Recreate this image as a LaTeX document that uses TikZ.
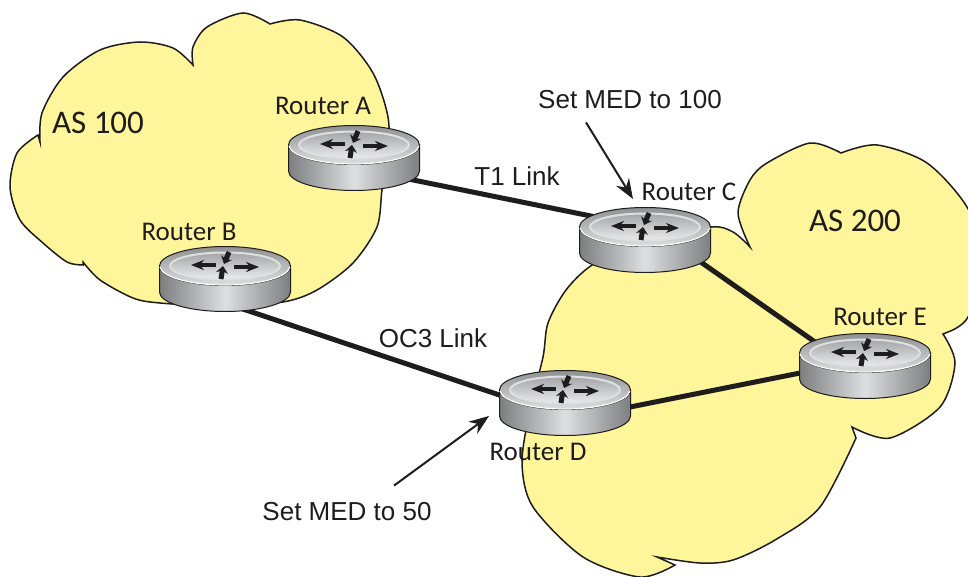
\documentclass[tikz,border=0pt]{standalone}
\usepackage{fontspec}
\setmainfont{Carlito}
\newfontfamily\arialfont{Liberation Sans}
\usetikzlibrary{arrows,arrows.meta,positioning,shadings}
\definecolor{cloudyellow}{RGB}{255,245,155}
\definecolor{bodydark}{RGB}{125,126,128}
\definecolor{bodylight}{RGB}{222,223,224}
\definecolor{linkink}{RGB}{30,28,28}
\tikzset{
    cloud/.style={draw=linkink, fill=cloudyellow, line width=1.5pt},
    routerbox/.style={rectangle, minimum width=131pt, minimum height=65pt, inner sep=0pt},
    routerlabel/.style={font=\fontsize{27}{27}\selectfont, text=linkink, inner sep=0pt},
    aslabel/.style={font=\fontsize{33}{33}\selectfont, text=linkink, inner sep=0pt},
    plainlabel/.style={font=\arialfont\fontsize{26}{26}\selectfont, text=linkink, inner sep=0pt},
    link/.style={draw=linkink, line width=5pt},
    pointer/.style={draw=linkink, line width=2pt, -{Stealth[length=20pt,width=15pt]}},
    flowtip/.style={draw=linkink, line width=3.6pt, -{Stealth[length=13pt,width=10pt]}},
    flowstub/.style={draw=linkink, line width=5pt, -{Stealth[length=7pt,width=12pt]}},
    router/.pic={
        % body
        \path[left color=bodydark, right color=bodydark, middle color=bodylight, draw=linkink, line width=1pt]
            (-65.5,-13) -- (-65.5,13) arc[start angle=180, end angle=0, x radius=65.5, y radius=19.5]
            -- (65.5,-13) -- cycle;
        % top
        \path[top color=bodydark!85, bottom color=bodylight, draw=linkink, line width=1pt]
            (0,-13) ellipse[x radius=65.5, y radius=19.5];
        \draw[white, line width=1.2pt] (-65,-12) arc[start angle=177, end angle=3, x radius=65, y radius=19];
        \path[top color=bodydark!70, bottom color=bodylight!60!white, draw=bodylight, line width=2pt]
            (0,-13) ellipse[x radius=55, y radius=13.5];
        \draw[flowtip] (-9,-14) -- (-34,-14);
        \draw[flowtip] (9,-12) -- (34,-12);
        \draw[flowstub] (4,-27) -- (-1,-15);
        \draw[flowstub] (-4,0) -- (-2,-13);
    }
}
\begin{document}
\begin{tikzpicture}[x=1pt, y=-1pt]
    \clip (0,0) rectangle (968,577);
    \fill[white] (0,0) rectangle (968,577);

    % AS 100
    \draw[cloud] plot[smooth] coordinates {(193,65) (193,47) (207,27) (243,13) (270,24)}
        -- plot[smooth] coordinates {(270,24) (300,20) (343,37) (373,73) (388,117) (388,155) (382,190) (377,227) (353,263) (317,290) (283,302) (220,306) (160,303) (133,298) (100,280) (83,262)}
        -- plot[smooth] coordinates {(83,265) (67,262) (43,243) (20,220) (10,187) (17,153) (38,135)}
        -- plot[smooth] coordinates {(40,142) (42,113) (63,77) (100,50) (140,42) (173,48) (193,65)}
        -- cycle;

    % AS 200
    \draw[cloud] plot[smooth] coordinates {(750,247) (738,213) (750,180) (767,163) (810,143) (841,153)}
        -- plot[smooth] coordinates {(841,153) (877,145) (927,163) (967,207) (985,260) (968,317) (948,332)}
        -- plot[smooth] coordinates {(943,334) (955,363) (940,407) (890,438) (852,427)}
        -- plot[smooth] coordinates {(856,438) (820,507) (775,540) (733,560) (700,563) (657,557)}
        -- plot[smooth] coordinates {(675,565) (640,577) (583,557) (533,507) (522,463) (530,410) (543,357) (548,323) (566,290) (592,265) (640,240)}
        -- plot[smooth] coordinates {(640,240) (710,227) (733,232) (750,247)}
        -- cycle;

    \node[routerbox] (ra) at (354,158) {};
    \node[routerbox] (rb) at (225,279) {};
    \node[routerbox] (rc) at (645,240) {};
    \node[routerbox] (rd) at (565,403) {};
    \node[routerbox] (re) at (865,366) {};

    \draw[link] ([yshift=-10pt]ra.center) -- ([yshift=13pt]rc.center);
    \draw[link] ([yshift=-24pt]rb.center) -- ([yshift=-14pt]rd.center);
    \draw[link] ([yshift=17pt]rc.center) -- ([yshift=-11pt]re.center);
    \draw[link] ([yshift=-17pt]rd.center) -- ([yshift=6pt]re.center);

    \pic at (ra) {router};
    \pic at (rb) {router};
    \pic at (rc) {router};
    \pic at (rd) {router};
    \pic at (re) {router};

    \node[routerlabel] (la) at (323,106) {Router A};
    \node[routerlabel] (lb) at (189,232) {Router B};
    \node[routerlabel] (lc) at (689,192) {Router C};
    \node[routerlabel] (ld) at (538,452) {Router D};
    \node[routerlabel] (le) at (880,317) {Router E};
    \node[aslabel] (as1) at (98,123) {AS 100};
    \node[aslabel] (as2) at (855,221) {AS 200};
    \node[plainlabel] (t1) at (517,176) {T1 Link};
    \node[plainlabel] (oc3) at (433,338) {OC3 Link};
    \node[plainlabel] (med1) at (630,100) {Set MED to 100};
    \node[plainlabel] (med2) at (347,512) {Set MED to 50};

    \coordinate (tipc) at (633,199);
    \coordinate (tipd) at (489,416);
    \draw[pointer] ([xshift=-44pt,yshift=-13pt]med1.south) -- (tipc);
    \draw[pointer] ([xshift=47pt,yshift=17pt]med2.north) -- (tipd);
\end{tikzpicture}
\end{document}
